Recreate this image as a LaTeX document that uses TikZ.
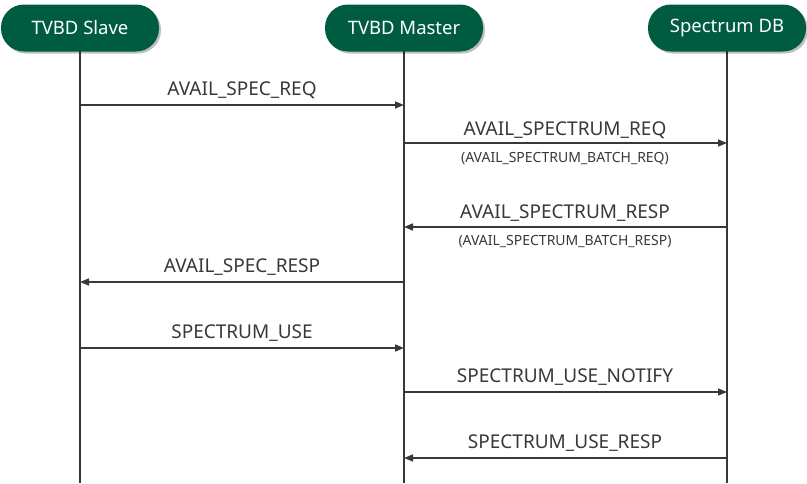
\documentclass[tikz,border=0pt]{standalone}
\usepackage{fontspec}
\setmainfont{Noto Sans}
\usetikzlibrary{arrows.meta,shadows,positioning}
\definecolor{dbgreen}{HTML}{005C40}
\definecolor{linegray}{HTML}{383838}
\tikzset{
  actor/.style={rectangle,rounded corners=23pt,fill=dbgreen,text=white,
    minimum width=158pt,minimum height=47pt,inner sep=0pt,
    font=\fontsize{18.5}{20}\selectfont,
    drop shadow={shadow xshift=2pt,shadow yshift=-2pt,opacity=.25,fill=black}},
  life/.style={draw=linegray,line width=1.6pt},
  msg/.style={draw=linegray,line width=1.6pt,-{Triangle[length=9pt,width=7pt]}},
  lbl/.style={text=linegray,font=\fontsize{19}{21}\selectfont,inner sep=0pt},
  sublbl/.style={text=linegray,font=\fontsize{14}{16}\selectfont,inner sep=0pt}
}
\begin{document}
\begin{tikzpicture}[x=1pt,y=-1pt]
      \useasboundingbox (0,0) rectangle (807,483);

      \coordinate (slaveEnd) at (80,483);
      \coordinate (masterEnd) at (404,483);
      \coordinate (dbEnd) at (727,483);
      \draw[life] (80,40) -- (slaveEnd);
      \draw[life] (404,40) -- (masterEnd);
      \draw[life] (727,40) -- (dbEnd);

      \node[actor] (slave) at (80,28) {TVBD Slave};
      \node[actor] (master) at (404,28) {TVBD Master};
      \node[actor] (db) at (727,28) {Spectrum DB};

      \coordinate (s1) at (80,105);   \coordinate (m1) at (404,105);
      \coordinate (m2) at (404,143);  \coordinate (d2) at (727,143);
      \coordinate (d3) at (727,227);  \coordinate (m3) at (404,227);
      \coordinate (m4) at (404,282);  \coordinate (s4) at (80,282);
      \coordinate (s5) at (80,348);   \coordinate (m5) at (404,348);
      \coordinate (m6) at (404,392);  \coordinate (d6) at (727,392);
      \coordinate (d7) at (727,458);  \coordinate (m7) at (404,458);

      \draw[msg] (s1) -- (m1);
      \node[lbl] (req) at (242,90) {AVAIL\_SPEC\_REQ};

      \draw[msg] (m2) -- (d2);
      \node[lbl] (sreq) at (565,130) {AVAIL\_SPECTRUM\_REQ};
      \node[sublbl] (breq) at (565,159) {(AVAIL\_SPECTRUM\_BATCH\_REQ)};

      \draw[msg] (d3) -- (m3);
      \node[lbl] (sresp) at (565,213) {AVAIL\_SPECTRUM\_RESP};
      \node[sublbl] (bresp) at (565,242) {(AVAIL\_SPECTRUM\_BATCH\_RESP)};

      \draw[msg] (m4) -- (s4);
      \node[lbl] (resp) at (242,267) {AVAIL\_SPEC\_RESP};

      \draw[msg] (s5) -- (m5);
      \node[lbl] (use) at (242,333) {SPECTRUM\_USE};

      \draw[msg] (m6) -- (d6);
      \node[lbl] (notify) at (565,377) {SPECTRUM\_USE\_NOTIFY};

      \draw[msg] (d7) -- (m7);
      \node[lbl] (useresp) at (565,443) {SPECTRUM\_USE\_RESP};
\end{tikzpicture}
\end{document}
